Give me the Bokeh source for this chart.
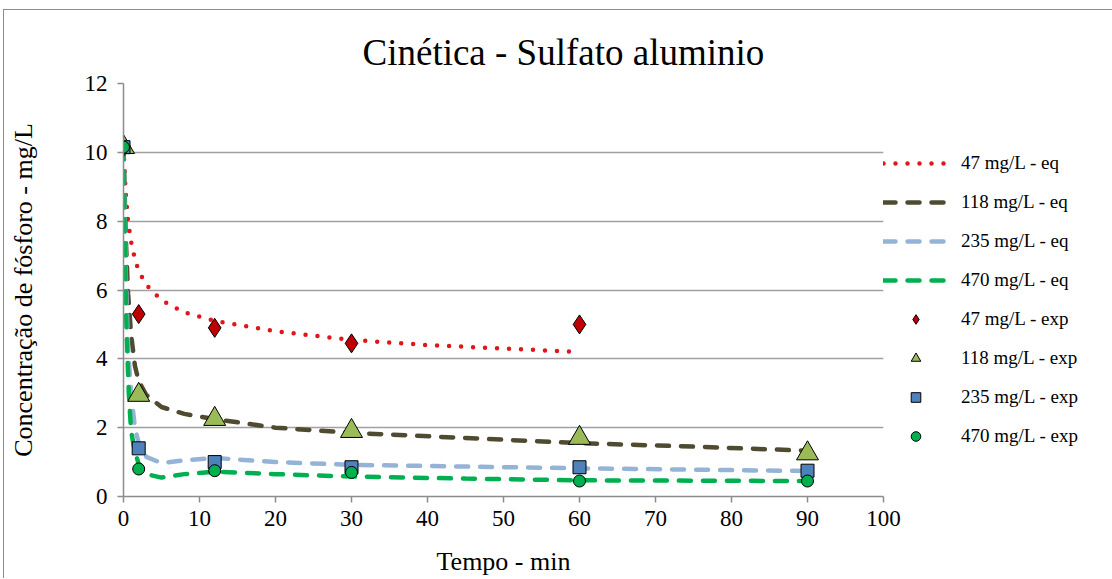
from bokeh.plotting import figure
from bokeh.models import Legend, LegendItem, FixedTicker, Range1d
from bokeh.embed import file_html
from bokeh.resources import INLINE

# experimental data
t_exp = [0, 2, 12, 30, 60, 90]
c47_exp_t = [0, 2, 12, 30, 60]
c47_exp = [10.15, 5.3, 4.9, 4.45, 5.0]
c118_exp = [10.15, 2.95, 2.25, 1.9, 1.7, 1.25]
c235_exp = [10.15, 1.4, 1.0, 0.85, 0.85, 0.75]
c470_exp = [10.15, 0.8, 0.75, 0.7, 0.45, 0.45]

# equation curves
t47_eq = [0, 0.3, 0.6, 1, 1.5, 2, 3, 5, 8, 12, 20, 30, 40, 50, 60]
c47_eq = [10.15, 8.8, 8.0, 7.4, 6.9, 6.55, 6.15, 5.7, 5.35, 5.1, 4.8, 4.55, 4.4, 4.3, 4.2]
t118_eq = [0, 0.3, 0.6, 1, 1.5, 2, 3, 5, 8, 12, 20, 30, 45, 60, 75, 90]
c118_eq = [10.15, 7.5, 5.9, 4.7, 3.8, 3.35, 2.95, 2.6, 2.4, 2.25, 2.0, 1.85, 1.7, 1.55, 1.45, 1.33]
t235_eq = [0, 0.3, 0.6, 1, 1.5, 2, 3, 5, 8, 12, 20, 30, 45, 60, 75, 90]
c235_eq = [10.15, 6.5, 4.3, 3.0, 2.0, 1.55, 1.15, 0.97, 1.05, 1.12, 1.0, 0.92, 0.87, 0.82, 0.78, 0.74]
t470_eq = [0, 0.2, 0.4, 0.7, 1, 1.5, 2, 3, 5, 8, 12, 20, 30, 45, 60, 75, 90]
c470_eq = [10.15, 7.0, 4.8, 3.0, 1.9, 1.3, 0.95, 0.65, 0.55, 0.65, 0.72, 0.65, 0.58, 0.52, 0.47, 0.46, 0.45]

x_ticks = [0, 10, 20, 30, 40, 50, 60, 70, 80, 90, 100]
y_ticks = [0, 2, 4, 6, 8, 10, 12]

FONT = "Liberation Serif"

p = figure(frame_width=760, frame_height=413, output_backend="svg", toolbar_location=None,
           x_range=Range1d(0, 100), y_range=Range1d(0, 12),
           min_border_left=119, min_border_right=226, min_border_top=73, min_border_bottom=80,
           title="Cinética - Sulfato aluminio",
           styles={"border-left": "1px solid #8c8c8c", "border-top": "1px solid #8c8c8c",
                   "margin-left": "3px", "margin-top": "9px"})

p.title.text_font = FONT
p.title.text_font_size = "37px"
p.title.text_font_style = "normal"
p.title.text_color = "#000000"
p.title.align = "left"
p.title.offset = 239
p.title.standoff = 21
p.outline_line_color = None

for ax in (p.xaxis, p.yaxis):
    ax.axis_line_color = "#8c8c8c"
    ax.axis_line_width = 1.5
    ax.major_tick_line_color = "#8c8c8c"
    ax.major_tick_line_width = 1.5
    ax.major_tick_out = 6
    ax.major_tick_in = 0
    ax.minor_tick_line_color = None
    ax.major_label_text_font = FONT
    ax.major_label_text_font_size = "23px"
    ax.major_label_text_color = "#000000"
    ax.axis_label_text_font = FONT
    ax.axis_label_text_font_size = "26px"
    ax.axis_label_text_font_style = "normal"
    ax.axis_label_text_color = "#000000"

p.xaxis.ticker = FixedTicker(ticks=x_ticks)
p.yaxis.ticker = FixedTicker(ticks=y_ticks)
p.xaxis.axis_label = "Tempo - min"
p.yaxis.axis_label = "Concentração de fósforo - mg/L"
p.xaxis.major_label_standoff = 8
p.yaxis.major_label_standoff = 10
p.xaxis.axis_label_standoff = 18
p.yaxis.axis_label_standoff = 44

p.xgrid.grid_line_color = None
p.ygrid.grid_line_color = "#a0a0a0"
p.ygrid.grid_line_width = 1.5

l47 = p.line(t47_eq, c47_eq, line_color="#e0161b", line_width=4.5, line_dash="0 12", line_cap="round")
l118 = p.line(t118_eq, c118_eq, line_color="#4f4b31", line_width=4.5, line_dash="12 12", line_cap="round")
l235 = p.line(t235_eq, c235_eq, line_color="#95b3d7", line_width=4.5, line_dash="12 12", line_cap="round")
l470 = p.line(t470_eq, c470_eq, line_color="#00b050", line_width=4.5, line_dash="12 12", line_cap="round")

s47 = p.scatter(c47_exp_t, c47_exp, marker="diamond", size=19,
                fill_color="#c00000", line_color="#000000", line_width=1)
s118 = p.scatter(t_exp, c118_exp, marker="triangle", size=22, fill_color="#9bbb59", line_color="#000000", line_width=1)
s235 = p.scatter(t_exp, c235_exp, marker="square", size=13, fill_color="#4f81bd", line_color="#000000", line_width=1)
s470 = p.scatter(t_exp, c470_exp, marker="circle", size=12, fill_color="#00b050", line_color="#000000", line_width=1)

legend = Legend(items=[
    LegendItem(label="47 mg/L - eq", renderers=[l47]),
    LegendItem(label="118 mg/L - eq", renderers=[l118]),
    LegendItem(label="235 mg/L - eq", renderers=[l235]),
    LegendItem(label="470 mg/L - eq", renderers=[l470]),
    LegendItem(label="47 mg/L - exp", renderers=[s47]),
    LegendItem(label="118 mg/L - exp", renderers=[s118]),
    LegendItem(label="235 mg/L - exp", renderers=[s235]),
    LegendItem(label="470 mg/L - exp", renderers=[s470]),
], location=(0, 48))
legend.label_text_font = FONT
legend.label_text_font_size = "19px"
legend.label_text_color = "#000000"
legend.glyph_width = 65
legend.glyph_height = 24
legend.spacing = 15
legend.label_standoff = 13
legend.padding = 2
legend.margin = 0
legend.border_line_color = None
legend.background_fill_alpha = 0
p.add_layout(legend, "right")

open("out.html", "w").write(file_html(p, INLINE))
